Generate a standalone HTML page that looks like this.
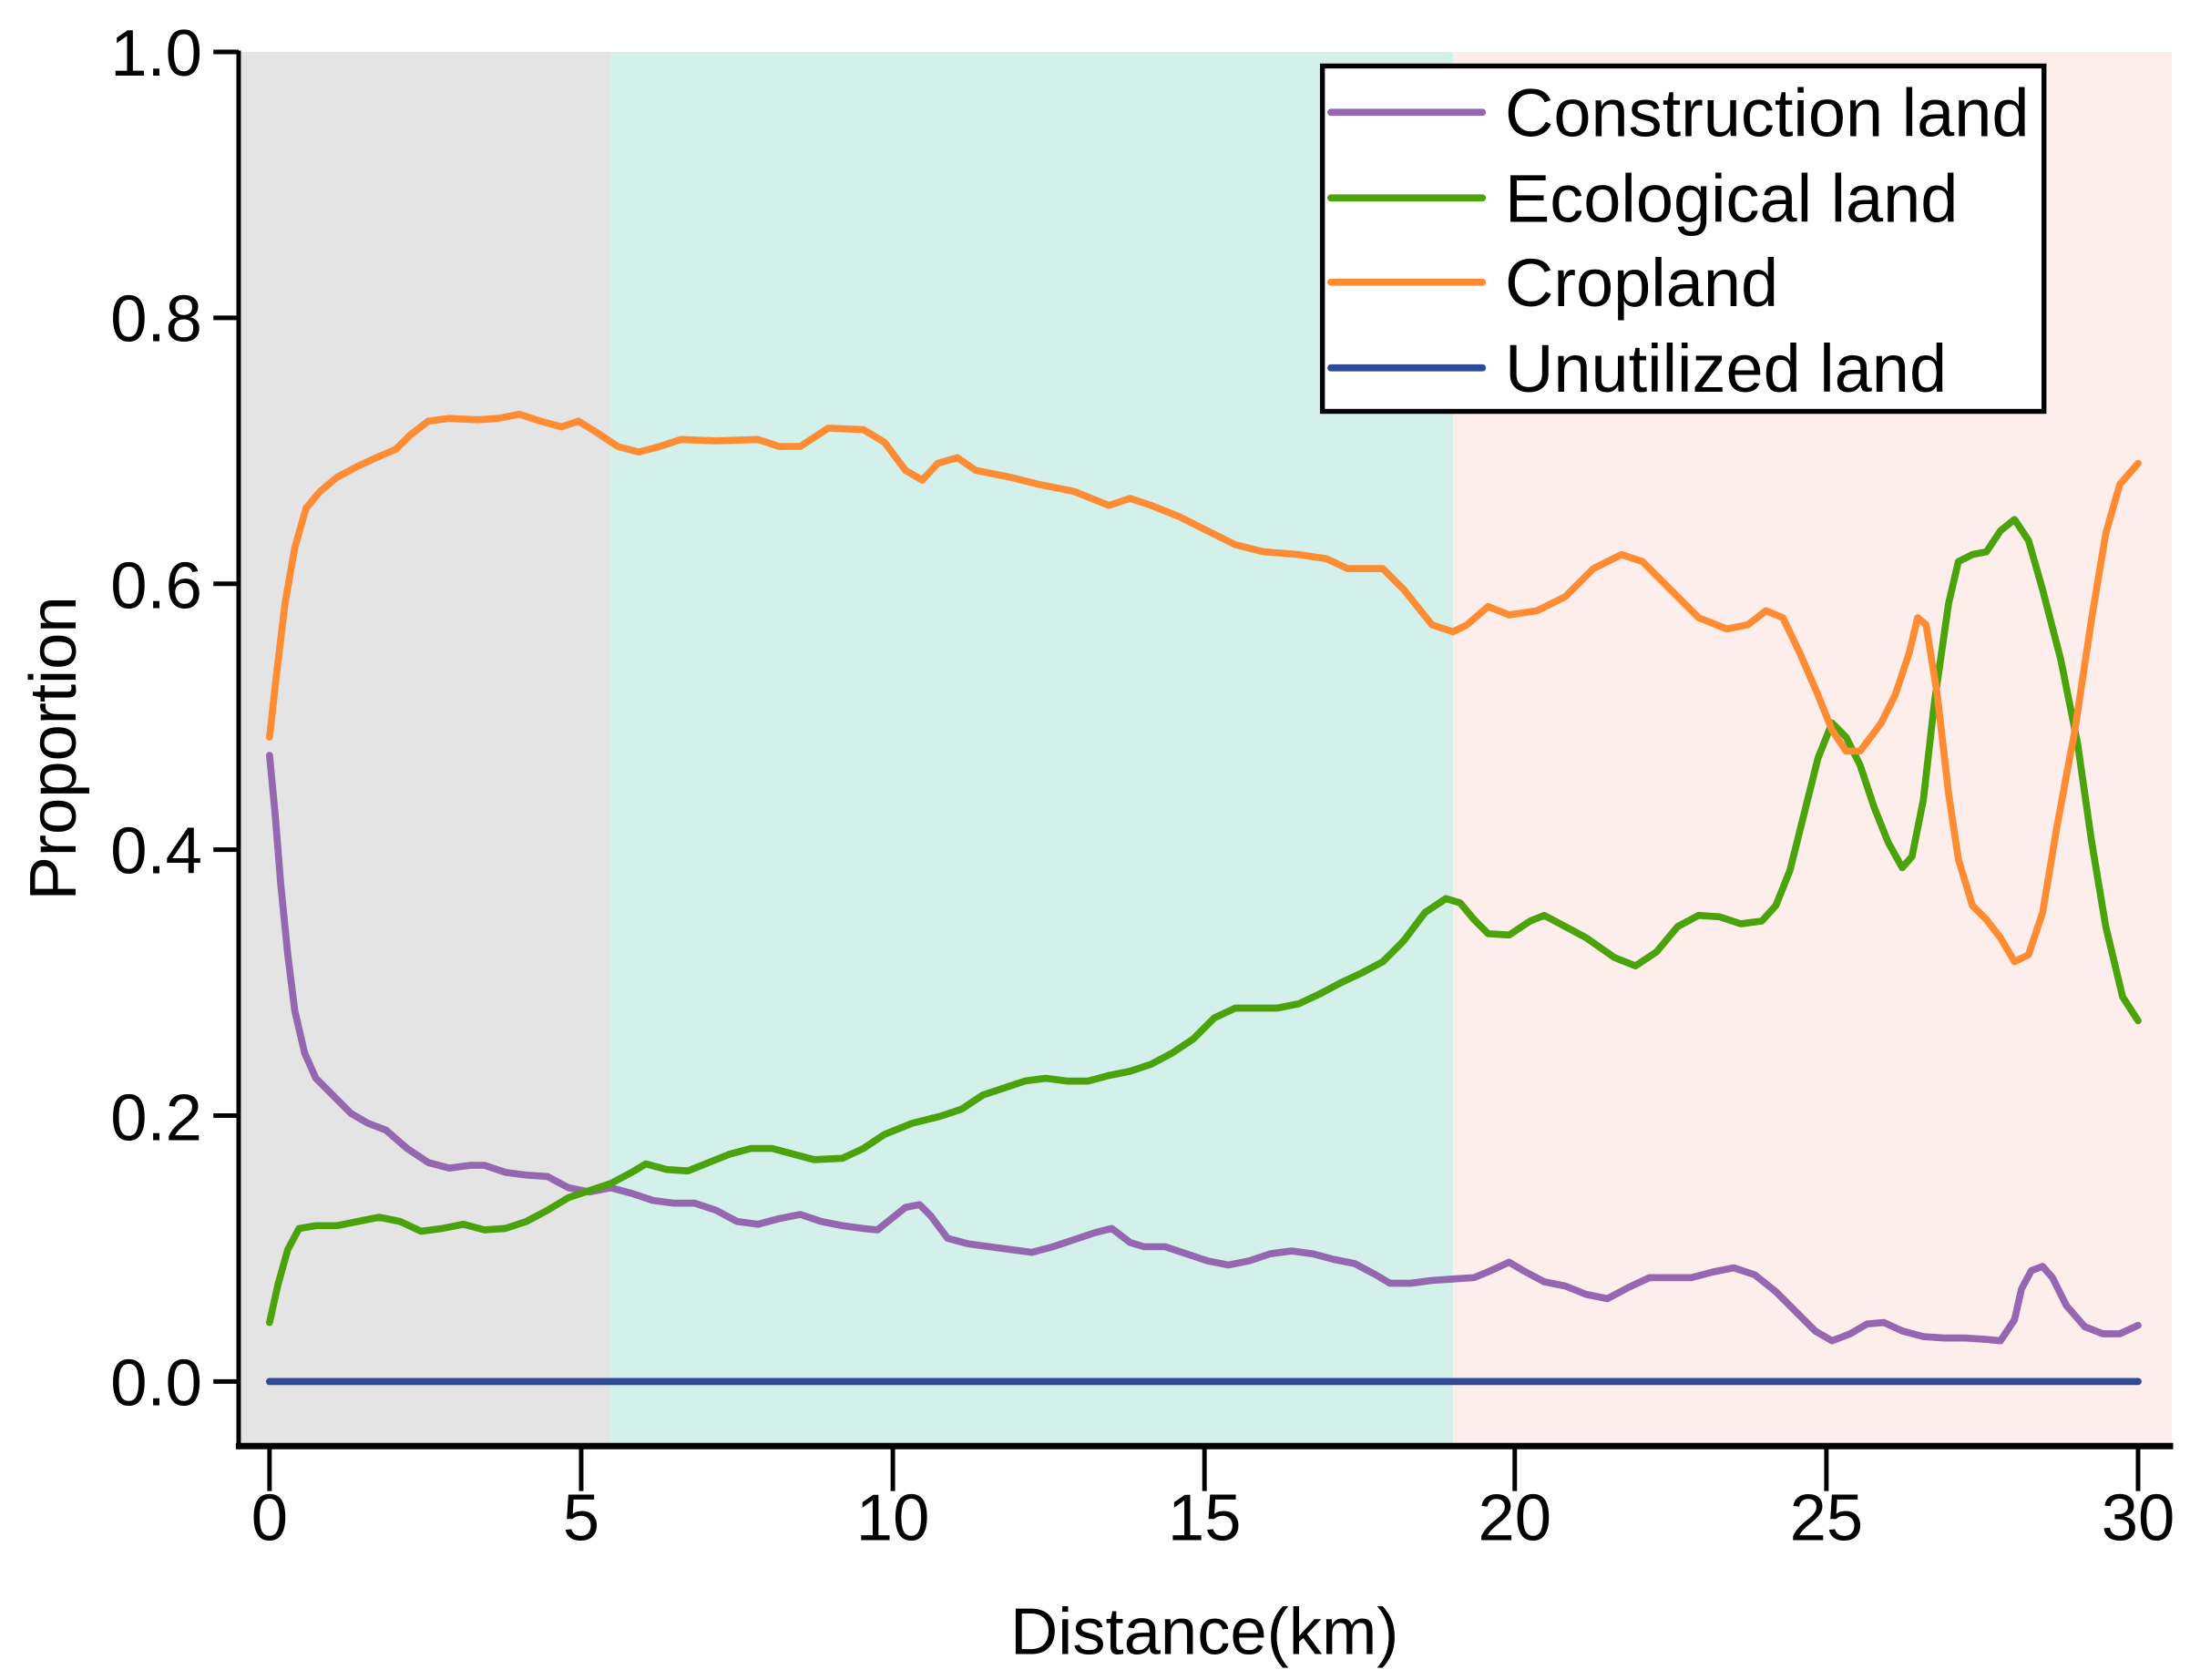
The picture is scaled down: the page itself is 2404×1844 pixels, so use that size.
<!DOCTYPE html>
<html><head><meta charset="utf-8"><style>html,body{margin:0;padding:0;background:#fff}svg{display:block}</style></head>
<body>
<svg width="2404" height="1844" viewBox="0 0 1560 1196.6" xmlns="http://www.w3.org/2000/svg" font-family="'Liberation Sans', Arial, sans-serif">
<rect x="0" y="0" width="1560" height="1197" fill="#fff"/>
<rect x="170" y="37" width="265" height="993" fill="#e4e4e4"/>
<rect x="435" y="37" width="600" height="993" fill="#d3f0eb"/>
<rect x="1035" y="37" width="512" height="993" fill="#fdeeeb"/>
<g fill="none" stroke-width="5" stroke-linejoin="round" stroke-linecap="round">
<polyline stroke="#2f4a98" points="192,984 1523,984"/>
<polyline stroke="#9467b0" points="192,538 196,580 200,630 205,680 210,720 217,750 225,768 237,780 250,793 262,800 275,805 290,818 305,828 320,832 335,830 345,830 360,835 375,837 390,838 405,846 420,849 435,846 450,850 465,855 480,857 495,857 510,862 525,870 540,872 555,868 570,865 585,870 600,873 615,875 625,876 635,868 645,860 655,858 663,866 675,882 690,886 705,888 720,890 735,892 750,888 765,883 780,878 792,875 805,885 815,888 830,888 845,893 860,898 875,901 890,898 905,893 920,891 935,893 950,897 965,900 980,908 990,914 1005,914 1020,912 1035,911 1050,910 1062,905 1075,899 1085,905 1100,913 1115,916 1130,922 1145,925 1160,917 1175,910 1190,910 1205,910 1220,906 1235,903 1250,908 1265,920 1280,935 1293,948 1305,955 1318,950 1330,943 1342,942 1355,948 1370,952 1385,953 1400,953 1415,954 1425,955 1435,940 1440,918 1447,905 1455,902 1462,910 1472,930 1485,945 1498,950 1510,950 1523,944"/>
<polyline stroke="#4aa30a" points="192,942 198,915 205,890 213,875 225,873 240,873 255,870 270,867 285,870 300,877 315,875 330,872 345,876 360,875 375,870 390,862 405,853 420,848 435,843 450,835 460,829 475,833 490,834 505,828 520,822 535,818 550,818 565,822 580,826 600,825 615,818 630,808 650,800 670,795 685,790 700,780 715,775 730,770 745,768 760,770 775,770 790,766 805,763 820,758 835,750 850,740 865,725 880,718 895,718 910,718 925,715 940,708 955,700 970,693 985,685 1000,670 1015,650 1030,640 1040,643 1050,655 1060,665 1075,666 1090,656 1100,652 1115,660 1130,668 1150,682 1165,688 1180,678 1195,660 1210,652 1225,653 1240,658 1255,656 1265,645 1275,620 1285,580 1295,540 1305,515 1315,525 1325,545 1335,575 1345,600 1355,618 1362,610 1370,570 1378,500 1388,430 1395,400 1405,395 1415,393 1425,378 1435,370 1445,385 1455,420 1468,470 1480,530 1490,600 1500,660 1512,710 1523,727"/>
<polyline stroke="#ff8c33" points="192,525 197,480 203,430 210,390 218,362 228,350 240,340 255,332 268,326 282,320 292,310 305,300 320,298 340,299 355,298 370,295 385,300 400,304 412,300 425,308 440,318 455,322 470,318 485,313 510,314 540,313 555,318 570,318 590,305 615,306 630,315 645,335 657,342 668,330 682,326 695,335 720,340 740,345 765,350 790,360 805,355 820,360 840,368 860,378 880,388 900,393 925,395 945,398 960,405 985,405 1000,420 1020,445 1035,450 1045,445 1060,432 1075,438 1095,435 1115,425 1135,405 1155,395 1170,400 1190,420 1210,440 1230,448 1245,445 1258,435 1270,440 1282,465 1295,495 1305,520 1315,535 1325,535 1340,515 1350,495 1360,465 1366,440 1372,445 1380,495 1388,565 1395,612 1405,645 1415,655 1425,668 1435,685 1445,680 1455,650 1465,590 1478,520 1490,440 1500,380 1510,345 1523,330"/>
</g>
<g stroke="#000" stroke-width="3.2" fill="none">
<line x1="170" y1="36" x2="170" y2="1031"/>
<line x1="168" y1="1030" x2="1548" y2="1030" stroke-width="4.5"/>
<line x1="152" y1="37" x2="170" y2="37"/><line x1="152" y1="226.4" x2="170" y2="226.4"/><line x1="152" y1="415.8" x2="170" y2="415.8"/><line x1="152" y1="605.2" x2="170" y2="605.2"/><line x1="152" y1="794.6" x2="170" y2="794.6"/><line x1="152" y1="984" x2="170" y2="984"/>
<line x1="192" y1="1030" x2="192" y2="1062"/><line x1="414" y1="1030" x2="414" y2="1062"/><line x1="636" y1="1030" x2="636" y2="1062"/><line x1="858" y1="1030" x2="858" y2="1062"/><line x1="1079" y1="1030" x2="1079" y2="1062"/><line x1="1301" y1="1030" x2="1301" y2="1062"/><line x1="1523" y1="1030" x2="1523" y2="1062"/>
</g>
<g font-size="47" fill="#000" text-anchor="end">
<text x="144" y="54">1.0</text><text x="144" y="243">0.8</text><text x="144" y="433">0.6</text><text x="144" y="622">0.4</text><text x="144" y="812">0.2</text><text x="144" y="1001">0.0</text>
</g>
<g font-size="47" fill="#000" text-anchor="middle">
<text x="192" y="1097">0</text><text x="414" y="1097">5</text><text x="636" y="1097">10</text><text x="858" y="1097">15</text><text x="1079" y="1097">20</text><text x="1301" y="1097">25</text><text x="1523" y="1097">30</text>
<text x="858" y="1178">Distance(km)</text>
<text transform="translate(54,533) rotate(-90)">Proportion</text>
</g>
<rect x="942" y="47" width="514" height="246" fill="#fff" stroke="#000" stroke-width="3.5"/>
<g stroke-width="5" stroke-linecap="round">
<line x1="948" y1="80" x2="1056" y2="80" stroke="#9467b0"/>
<line x1="948" y1="141" x2="1056" y2="141" stroke="#4aa30a"/>
<line x1="948" y1="201" x2="1056" y2="201" stroke="#ff8c33"/>
<line x1="948" y1="262" x2="1056" y2="262" stroke="#2f4a98"/>
</g>
<g font-size="48" fill="#000">
<text x="1072" y="97">Construction land</text>
<text x="1072" y="158">Ecological land</text>
<text x="1072" y="218">Cropland</text>
<text x="1072" y="279">Unutilized land</text>
</g>
</svg>
</body></html>
